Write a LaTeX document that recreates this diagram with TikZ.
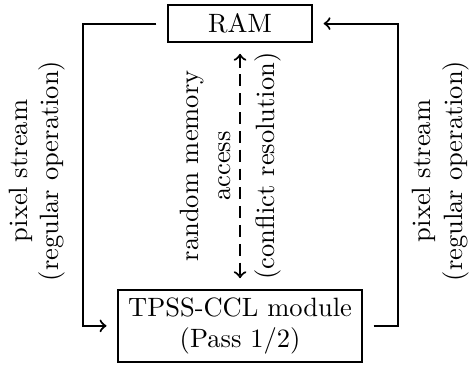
\documentclass[tikz,border=0pt]{standalone}
\usetikzlibrary{positioning}

\begin{document}
\begin{tikzpicture}[thick,
	block/.style = {rectangle, draw, align=center, inner sep=2pt},
	stream/.style = {->, shorten >=4pt, shorten <=4pt},
	access/.style = {<->, dash pattern=on 4.5pt off 2.6pt, shorten >=4pt, shorten <=4pt},
	lbl/.style = {rotate=90, align=center, inner sep=0pt}]

	\useasboundingbox (0,0) rectangle (177.4pt,-137.4pt);

	\node[block, minimum width=54.3pt, minimum height=14pt] (ram) at (90.6pt,-8.9pt) {RAM};
	\node[block, minimum width=92pt, minimum height=27.2pt] (ccl) at (90.6pt,-123pt) {TPSS-CCL module\\(Pass 1/2)};

	\coordinate (lc) at (31.2pt,-123pt);
	\coordinate (rc) at (150.2pt,-123pt);

	\node[lbl] (lstream) at (14pt,-64.5pt) {pixel stream\\(regular operation)};
	\node[lbl] (rstream) at (166.4pt,-64.5pt) {pixel stream\\(regular operation)};
	\node[lbl] (rand) at (77.4pt,-62.6pt) {random memory\\access};
	\node[lbl] (confl) at (101.1pt,-62.6pt) {(conflict resolution)};

	% pixel streams
	\draw[stream] (ram.west) -| (lc) -- (ccl.west);
	\draw[stream] (ccl.east) -- (rc) |- (ram.east);

	% random access
	\draw[access] (ram.south) -- (ccl.north);
\end{tikzpicture}
\end{document}
